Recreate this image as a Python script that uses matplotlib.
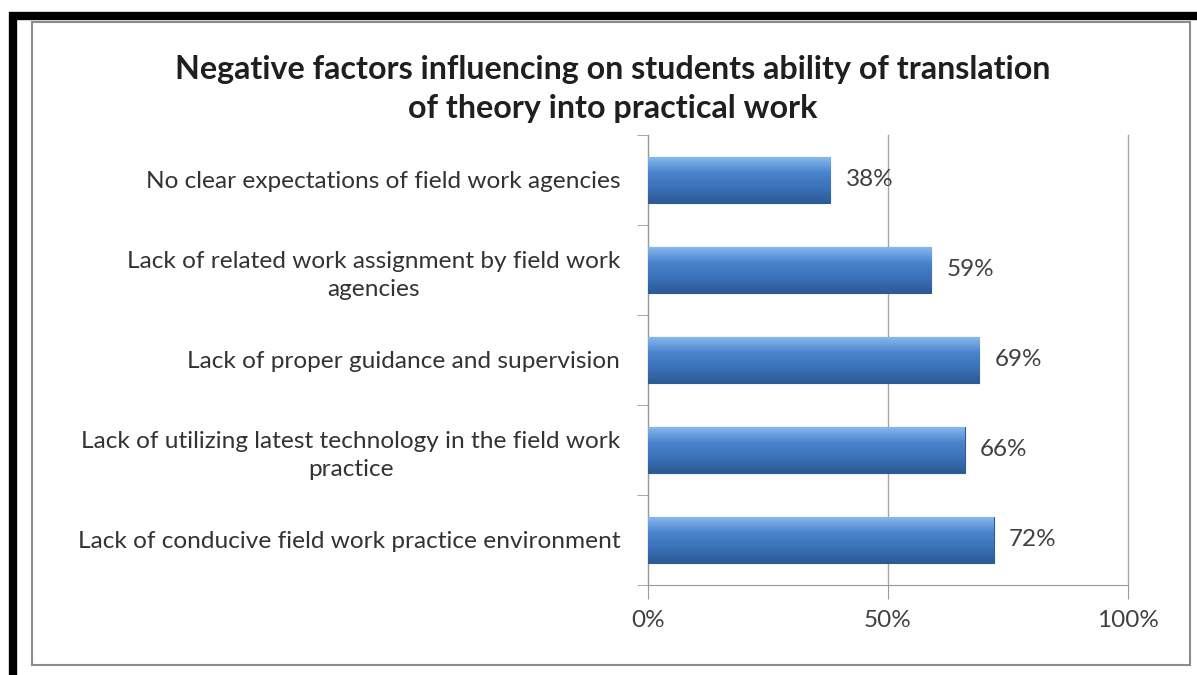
import matplotlib.pyplot as plt
import numpy as np
from matplotlib.patches import Rectangle
from matplotlib.colors import LinearSegmentedColormap

plt.rcParams['font.family'] = ['Lato', 'DejaVu Sans']

# data (top to bottom as in the chart)
factors = [
    'No clear expectations of field work agencies',
    'Lack of related work assignment by field work\nagencies',
    'Lack of proper guidance and supervision',
    'Lack of utilizing latest technology in the field work\npractice',
    'Lack of conducive field work practice environment',
]
percent = [38, 59, 69, 66, 72]
xticks = [0, 50, 100]
title = ('Negative factors influencing on students ability of translation\n'
         'of theory into practical work')

fig = plt.figure(figsize=(11.97, 6.75), dpi=100)
W, H = 1197, 675

# outer black frame and inner grey chart border
fig.patches.append(Rectangle((13 / W, -0.05), 1.2, 1 - 16 / H + 0.05, transform=fig.transFigure,
                             fill=False, edgecolor='black', linewidth=6, zorder=0))
fig.patches.append(Rectangle((32 / W, 10 / H), 1158 / W, 643 / H, transform=fig.transFigure,
                             fill=False, edgecolor='#8c8c8c', linewidth=1.5, zorder=1))

ax = fig.add_axes([648 / W, 90 / H, 480 / W, 450 / H])
y = np.arange(len(factors))
bars = ax.barh(y, percent, height=0.51, color='#4079c0', edgecolor='#2d5b96',
               linewidth=0.8, zorder=3)

# bevel-like vertical gradient clipped to each bar (light top, dark bottom)
grad = LinearSegmentedColormap.from_list('bev', ['#86b8ef', '#4a84cc', '#3b72b9', '#2c5a95'])
g = np.linspace(0, 1, 64).reshape(-1, 1)
for b in bars:
    x0, y0 = b.get_x(), b.get_y()
    w, h = b.get_width(), b.get_height()
    im = ax.imshow(g, cmap=grad, aspect='auto', extent=(x0, x0 + w, y0 + h, y0),
                   origin='upper', zorder=3.5, interpolation='bicubic')
    im.set_clip_path(b)

for yi, v in zip(y, percent):
    ax.text(v + 3.2, yi, f'{v}%', va='center', ha='left', fontsize=17.5, color='#404040', zorder=5)

ax.set_xlim(0, 100)
ax.set_ylim(len(factors) - 0.5, -0.5)
ax.set_xticks(xticks)
ax.set_xticklabels([f'{t}%' for t in xticks], fontsize=17.5, color='#404040')
ax.set_yticks(y)
ax.set_yticklabels(factors, fontsize=17.6, color='#333333', multialignment='center',
                   linespacing=1.4)
ax.tick_params(axis='y', length=0, pad=20)
ax.set_yticks(np.arange(-0.5, len(factors)), minor=True)
ax.tick_params(axis='y', which='minor', length=8, color='#999999', direction='out')
ax.tick_params(axis='x', length=10, color='#999999', pad=8)

ax.grid(axis='x', color='#a6a6a6', linewidth=1, zorder=0, clip_on=False)
for s in ['top', 'right']:
    ax.spines[s].set_visible(False)
ax.spines['left'].set_color('#999999')
ax.spines['bottom'].set_color('#999999')
ax.set_axisbelow(True)

fig.text(613 / W, 1 - 89 / H, title, ha='center', va='center', fontsize=23.2,
         fontweight='bold', color='#1f1f1f', linespacing=1.45)

fig.savefig('out.png', dpi=100)
